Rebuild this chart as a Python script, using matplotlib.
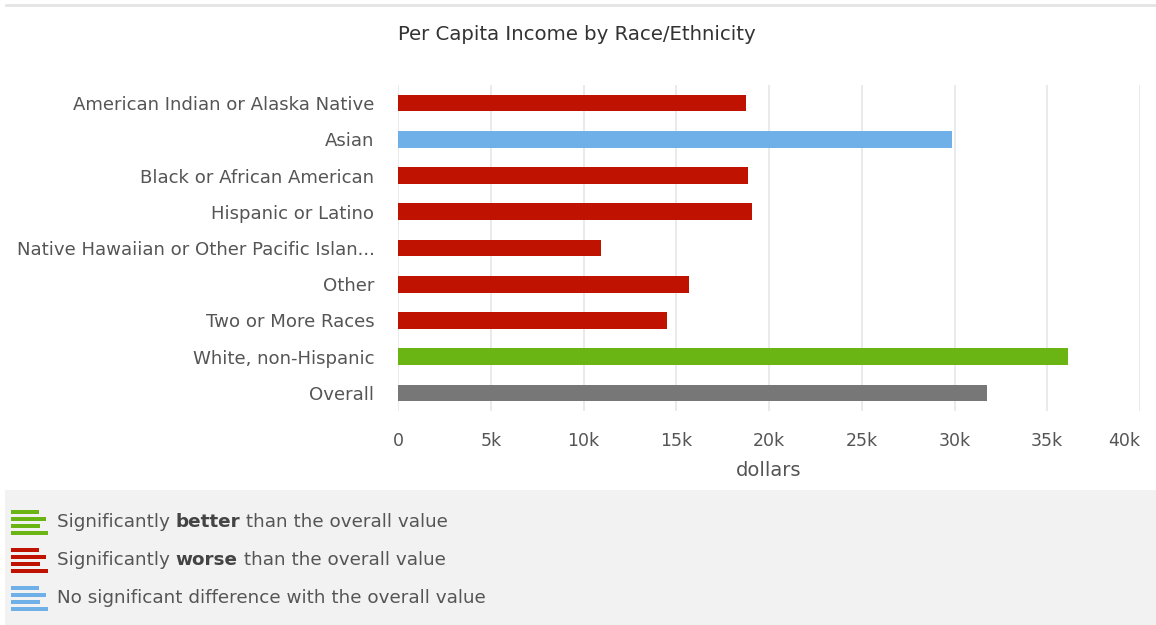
import matplotlib.pyplot as plt
from matplotlib.patches import Rectangle
from matplotlib.lines import Line2D
import numpy as np

plt.rcParams['font.family'] = ['DejaVu Sans']

# data
categories = ["American Indian or Alaska Native", "Asian", "Black or African American",
              "Hispanic or Latino", "Native Hawaiian or Other Pacific Islan...", "Other",
              "Two or More Races", "White, non-Hispanic", "Overall"]
income = [18760, 29870, 18870, 19080, 10940, 15690, 14500, 36100, 31750]
status = ["worse", "same", "worse", "worse", "worse", "worse", "worse", "better", "overall"]

colors = {"better": "#6ab514", "worse": "#c01200", "same": "#6fb0e8", "overall": "#777777"}
legend_items = [("better", "Significantly ", "better", " than the overall value"),
                ("worse", "Significantly ", "worse", " than the overall value"),
                ("same", "No significant difference with the overall value", "", "")]

tick_vals = np.arange(0, 40001, 5000)
tick_labels = ["0"] + [f"{v // 1000}k" for v in tick_vals[1:]]

W, H = 1156, 625
fig = plt.figure(figsize=(W / 100, H / 100), dpi=100)
fig.patch.set_facecolor("white")

ax = fig.add_axes([398 / W, 1 - 411 / H, 742 / W, 326 / H])
y = np.arange(len(categories))
ax.barh(y, income, height=0.46, color=[colors[s] for s in status], zorder=3)
ax.set_ylim(len(categories) - 0.5, -0.5)
ax.set_xlim(0, 40000)
ax.set_xticks(tick_vals)
ax.set_xticklabels(tick_labels)
ax.get_xticklabels()[-1].set_ha("right")
ax.set_yticks(y)
ax.set_yticklabels(categories)
ax.tick_params(axis="x", length=0, labelsize=12.5, labelcolor="#555555", pad=15)
ax.tick_params(axis="y", length=0, labelsize=13.1, labelcolor="#555555", pad=17)
ax.grid(axis="x", color="#e6e6e6", linewidth=1.2, zorder=0)
for s in ax.spines.values():
    s.set_visible(False)
ax.set_xlabel("dollars", fontsize=14, color="#555555", labelpad=8)

fig.text(577 / W, 1 - 35 / H, "Per Capita Income by Race/Ethnicity", ha="center", va="center",
         fontsize=14.2, color="#333333")

# thin border line at top
fig.add_artist(Line2D([0.005, 1], [1 - 5 / H, 1 - 5 / H], color="#e4e4e4", lw=2))

# legend panel
fig.add_artist(Rectangle((5 / W, 0), 1 - 5 / W, 135 / H, transform=fig.transFigure,
                         facecolor="#f2f2f2", edgecolor="none", zorder=0))
icon_lens = [28, 35, 29, 37]
for i, (key, pre, bold, post) in enumerate(legend_items):
    yc = 522 + i * 38
    for j, L in enumerate(icon_lens):
        yy = yc - 10 + j * 7
        fig.add_artist(Rectangle((11 / W, 1 - (yy + 2) / H), L / W, 4.5 / H,
                                 transform=fig.transFigure, facecolor=colors[key],
                                 edgecolor="none", zorder=2))
    t = fig.text(57 / W, 1 - yc / H, pre, ha="left", va="center", fontsize=13.2,
                 color="#555555")
    if bold:
        t2 = ax.annotate(bold, xy=(1, 0), xycoords=t, ha="left", va="bottom",
                         fontsize=13.2, color="#444444", fontweight="bold",
                         annotation_clip=False)
        ax.annotate(post, xy=(1, 0), xycoords=t2, ha="left", va="bottom",
                    fontsize=13.2, color="#555555", annotation_clip=False)

fig.savefig("out.png", dpi=100)
